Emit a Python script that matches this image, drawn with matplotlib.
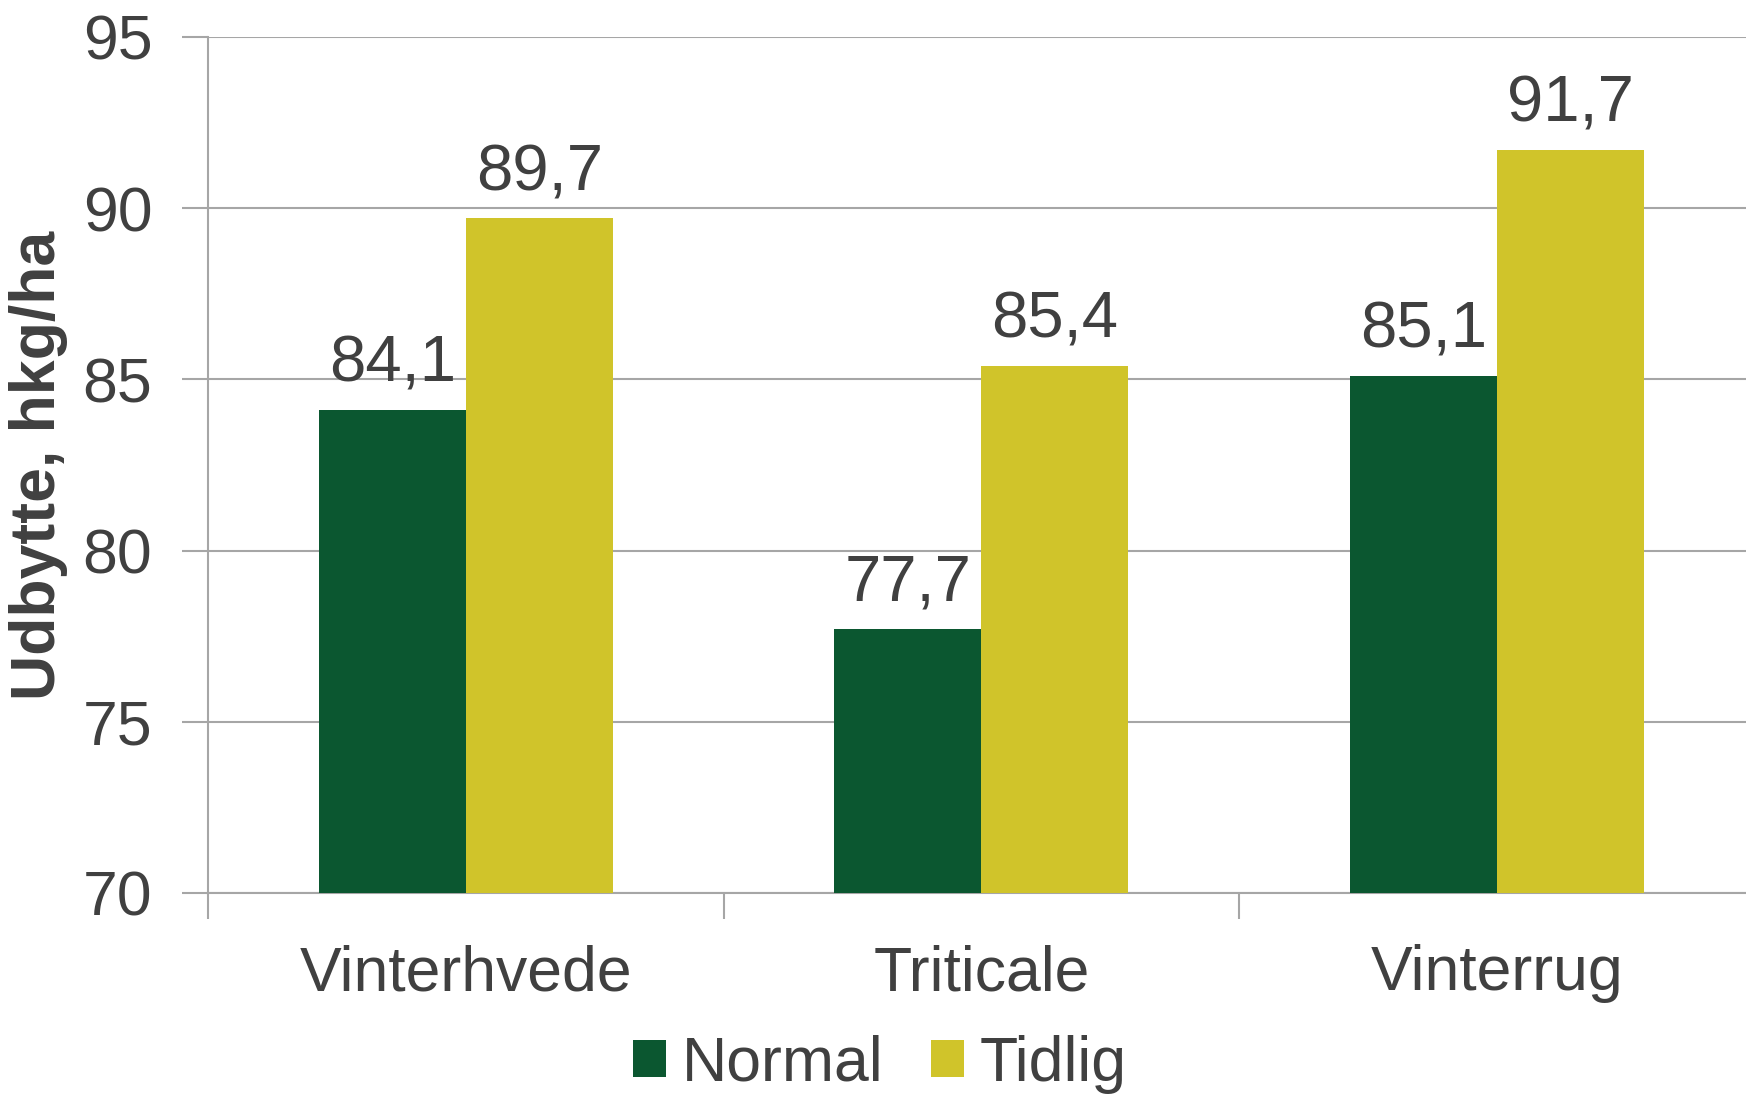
import numpy as np
import matplotlib.pyplot as plt

plt.rcParams['font.family'] = ['Liberation Sans', 'DejaVu Sans']

categories = ["Vinterhvede", "Triticale", "Vinterrug"]
normal = [84.1, 77.7, 85.1]
tidlig = [89.7, 85.4, 91.7]
series_names = ["Normal", "Tidlig"]

GREEN = "#0b5730"
YELLOW = "#d0c42a"
TXT = "#404040"
GRID = "#a6a6a6"

fig = plt.figure(figsize=(17.46, 10.95), dpi=100)
ax = fig.add_axes([208 / 1746, 1 - 893 / 1095, 1 - 208 / 1746, (893 - 37) / 1095])

x = np.arange(len(categories))
w = 0.285
b1 = ax.bar(x - w / 2, normal, w, color=GREEN, label=series_names[0], zorder=3)
b2 = ax.bar(x + w / 2, tidlig, w, color=YELLOW, label=series_names[1], zorder=3)

for bars, vals in ((b1, normal), (b2, tidlig)):
    for r, v in zip(bars, vals):
        ax.text(r.get_x() + r.get_width() / 2, v + 0.45, ("%.1f" % v).replace(".", ","),
                ha="center", va="bottom", fontsize=47, color=TXT)

ax.set_ylim(70, 95)
ax.set_xlim(-0.5, 2.483)
ax.set_yticks([70, 75, 80, 85, 90, 95])
ax.yaxis.grid(True, color=GRID, linewidth=1.5, zorder=0)
ax.tick_params(axis="y", length=19, width=1.5, color=GRID, labelsize=45, labelcolor=TXT, pad=21)

# category boundaries as x ticks
ax.set_xticks([-0.5, 0.5, 1.5])
ax.set_xticklabels([])
ax.set_xticks(x, minor=True)
ax.set_xticklabels(categories, minor=True)
ax.tick_params(axis="x", which="major", length=19, width=1.5, color=GRID)
ax.tick_params(axis="x", which="minor", length=0, labelsize=45, labelcolor=TXT, pad=37)

for s in ("top", "right"):
    ax.spines[s].set_visible(False)
ax.spines["left"].set_color(GRID)
ax.spines["left"].set_linewidth(1.5)
ax.spines["bottom"].set_color(GRID)
ax.spines["bottom"].set_linewidth(1.5)

fig.text(39 / 1746, 1 - 465 / 1095, "Udbytte, hkg/ha", rotation=90, ha="center", va="center",
         fontsize=45, fontweight="bold", color=TXT)

fig.legend(handles=[b1, b2], loc="center", bbox_to_anchor=(880 / 1746, 1 - 1064 / 1095),
           ncol=2, frameon=False, fontsize=45, labelcolor=TXT, handlelength=0.53,
           handleheight=0.53, handletextpad=0.25, columnspacing=0.77, borderpad=0.1)

fig.savefig("out.png", dpi=100)
